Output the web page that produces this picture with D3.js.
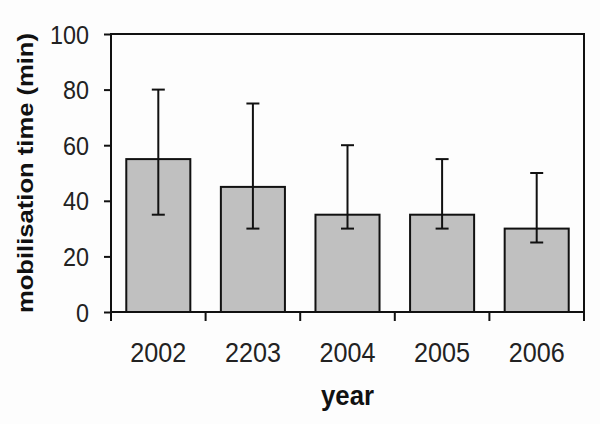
<!DOCTYPE html>
<html>
<head>
<meta charset="utf-8">
<script src="https://cdn.jsdelivr.net/npm/d3@7"></script>
<style>
  html, body { margin: 0; padding: 0; background: #fdfdfd; }
  svg { display: block; font-family: Arial, "Liberation Sans", sans-serif; }
</style>
</head>
<body>
<div id="chart"></div>
<script>
const years = ['2002', '2203', '2004', '2005', '2006'];
const means = [55, 45, 35, 35, 30];
const lowerErr = [35, 30, 30, 30, 25];
const upperErr = [80, 75, 60, 55, 50];
const yTicks = [0, 20, 40, 60, 80, 100];

const width = 600;
const height = 424;
const margin = {top: 34, right: 16, bottom: 112, left: 111};

const svg = d3.select('#chart')
    .append('svg')
    .attr('width', width)
    .attr('height', height);

const x = d3.scaleBand()
    .domain(years)
    .range([margin.left, width - margin.right])
    .padding(0);

const y = d3.scaleLinear()
    .domain([0, 100])
    .range([height - margin.bottom, margin.top]);

const barW = x.bandwidth() * 0.677;
const data = years.map((d, i) => ({year: d, mean: means[i], lo: lowerErr[i], hi: upperErr[i]}));

// bars
svg.selectAll('rect.bar')
    .data(data)
    .enter().append('rect')
    .attr('class', 'bar')
    .attr('x', d => x(d.year) + (x.bandwidth() - barW) / 2)
    .attr('y', d => y(d.mean))
    .attr('width', barW)
    .attr('height', d => y(0) - y(d.mean))
    .attr('fill', '#c0c0c0')
    .attr('stroke', '#111')
    .attr('stroke-width', 2);

// error bars
const err = svg.selectAll('g.err')
    .data(data)
    .enter().append('g')
    .attr('class', 'err')
    .attr('transform', d => `translate(${x(d.year) + x.bandwidth() / 2},0)`)
    .attr('stroke', '#111')
    .attr('stroke-width', 2);

err.append('line')
    .attr('y1', d => y(d.lo))
    .attr('y2', d => y(d.hi));

err.selectAll('line.cap')
    .data(d => [d.lo, d.hi])
    .enter().append('line')
    .attr('class', 'cap')
    .attr('x1', -6.5)
    .attr('x2', 6.5)
    .attr('y1', v => y(v))
    .attr('y2', v => y(v));

// frame
svg.append('rect')
    .attr('x', margin.left)
    .attr('y', margin.top)
    .attr('width', width - margin.left - margin.right)
    .attr('height', height - margin.top - margin.bottom)
    .attr('fill', 'none')
    .attr('stroke', '#111')
    .attr('stroke-width', 2);

// y axis
const yAxis = svg.append('g')
    .attr('transform', `translate(${margin.left},0)`)
    .call(d3.axisLeft(y).tickValues(yTicks).tickSize(7).tickPadding(15));
yAxis.select('.domain').remove();
yAxis.selectAll('.tick line').attr('stroke', '#111').attr('stroke-width', 2);
yAxis.selectAll('.tick text')
    .attr('font-size', 25)
    .attr('fill', '#222')
    .attr('dy', '0.36em')
    .attr('textLength', d => String(d).length * 13)
    .attr('lengthAdjust', 'spacingAndGlyphs');

// x axis: ticks at category boundaries
const bounds = years.map(d => x(d)).concat([x.range()[1]]);
svg.selectAll('line.xtick')
    .data(bounds)
    .enter().append('line')
    .attr('class', 'xtick')
    .attr('x1', d => d)
    .attr('x2', d => d)
    .attr('y1', y(0))
    .attr('y2', y(0) + 9)
    .attr('stroke', '#111')
    .attr('stroke-width', 2);

svg.selectAll('text.xlab')
    .data(years)
    .enter().append('text')
    .attr('class', 'xlab')
    .attr('x', d => x(d) + x.bandwidth() / 2)
    .attr('y', 362)
    .attr('text-anchor', 'middle')
    .attr('font-size', 27)
    .attr('fill', '#222')
    .attr('textLength', 56)
    .attr('lengthAdjust', 'spacingAndGlyphs')
    .text(d => d);

// axis titles
svg.append('text')
    .attr('x', (margin.left + width - margin.right) / 2)
    .attr('y', 405)
    .attr('text-anchor', 'middle')
    .attr('font-size', 28)
    .attr('font-weight', 'bold')
    .attr('fill', '#111')
    .attr('textLength', 53)
    .attr('lengthAdjust', 'spacingAndGlyphs')
    .text('year');

svg.append('text')
    .attr('transform', `translate(33,${(margin.top + height - margin.bottom) / 2}) rotate(-90)`)
    .attr('text-anchor', 'middle')
    .attr('font-size', 22)
    .attr('font-weight', 'bold')
    .attr('fill', '#111')
    .attr('textLength', 280)
    .attr('lengthAdjust', 'spacingAndGlyphs')
    .text('mobilisation time (min)');
</script>
</body>
</html>
